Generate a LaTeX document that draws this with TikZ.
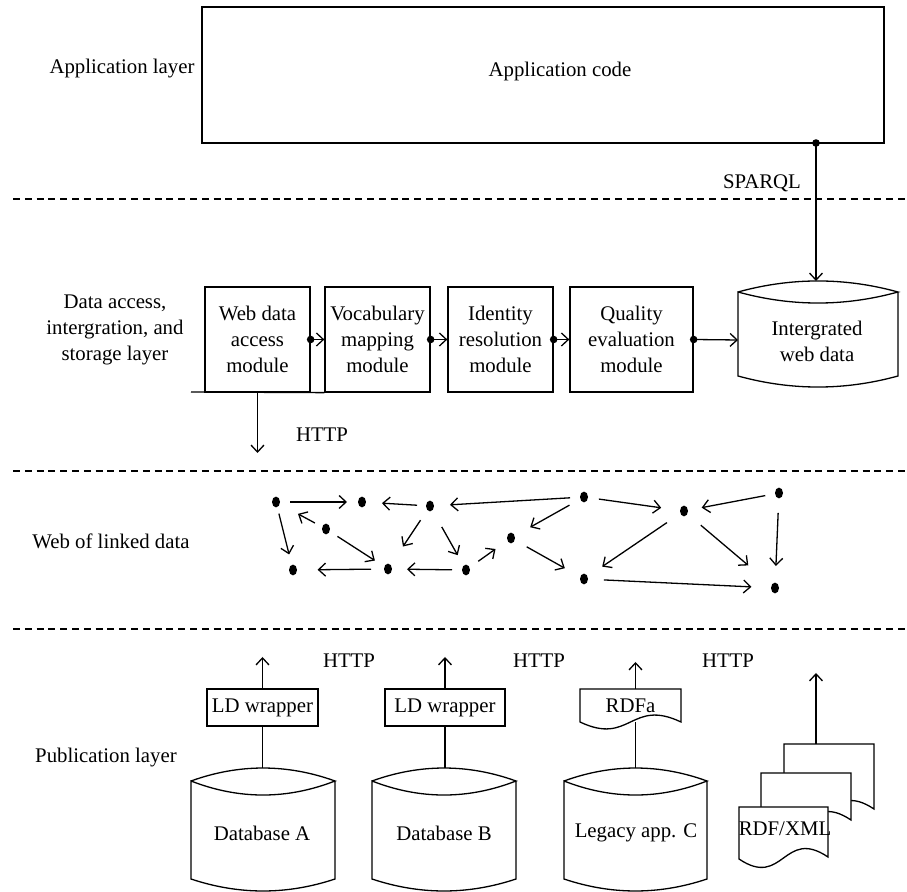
\documentclass[tikz,border=0pt]{standalone}
\usepackage{fontspec}
\setmainfont{Liberation Serif}
\usetikzlibrary{arrows.meta,calc,shapes.geometric}
\newcommand\cylshape[7]{% l, r, ysidetop, ysidebot, hTop, hInner, hBot
  \draw[ln] (#1,#3) .. controls ({#1+(#2-#1)/3},{#3-#5}) and ({#2-(#2-#1)/3},{#3-#5}) .. (#2,#3)
    .. controls ({#2-(#2-#1)/3},{#3+#6}) and ({#1+(#2-#1)/3},{#3+#6}) .. (#1,#3) -- (#1,#4)
    .. controls ({#1+(#2-#1)/3},{#4+#7}) and ({#2-(#2-#1)/3},{#4+#7}) .. (#2,#4) -- (#2,#3);}
\newcommand\docshape[6]{% l, r, top, bottom-left, bottom-right, wave
  \filldraw[ln,fill=white] (#1,#3) -- (#2,#3) -- (#2,#5)
    .. controls ({(#1+#2)/2},{#5-#6}) and ({(#1+#2)/2},{#4+#6}) .. (#1,#4) -- cycle;}
\begin{document}
\begin{tikzpicture}[x=0.5pt,y=-0.5pt,
  font=\fontsize{10.4}{13}\selectfont,
  ln/.style={line width=0.65pt},
  arr/.style={line width=0.65pt,-{Straight Barb[length=3.5pt,width=6.5pt]}},
  dashline/.style={line width=0.65pt,dash pattern=on 3.5pt off 2.4pt},
  modbox/.style={draw,line width=0.65pt,minimum height=52.5pt,inner sep=0pt,align=center},
  lbl/.style={align=center,inner sep=0pt},
  wrapbox/.style={draw,line width=0.65pt,minimum height=18.5pt,inner sep=0pt},
  lddot/.style={ellipse,fill=black,inner sep=0pt,minimum width=4pt,minimum height=5.4pt},
  ldarr/.style 2 args={arr,shorten <=#1,shorten >=#2},
  bigdot/.style={circle,fill=black,inner sep=0pt,minimum size=3.8pt},
]
\useasboundingbox (0,0) rectangle (907,892);

% ---------- layer separators ----------
\draw[dashline] (13,199) -- (907,199);
\draw[dashline] (13,471) -- (907,471);
\draw[dashline] (13,629) -- (907,629);

% ---------- layer labels ----------
\node[lbl] (l1) at (122,69) {Application layer};
\node[lbl] (l2) at (115,330) {Data access,\\intergration, and\\storage layer};
\node[lbl] (l3) at (111,541) {Web of linked data};
\node[lbl] (l4) at (106,758) {Publication layer};

% ---------- application layer ----------
\node[draw,ln,minimum width=341pt,minimum height=68pt,inner sep=0pt] (app) at (543,75) {};
\node[lbl] (apptext) at (560,72) {Application code};
\coordinate (appout) at (816,143);
\coordinate (iwdtop) at (816,281);
\node[lbl] (sparql) at (762,183) {SPARQL};

% ---------- data access layer ----------
\node[modbox,minimum width=52.5pt] (m1) at (257.5,339.5) {Web data\\access\\module};
\node[modbox,minimum width=52.5pt] (m2) at (377.5,339.5) {Vocabulary\\mapping\\module};
\node[modbox,minimum width=52.5pt] (m3) at (500.5,339.5) {Identity\\resolution\\module};
\node[modbox,minimum width=61.5pt] (m4) at (631.5,339.5) {Quality\\evaluation\\module};
\cylshape{738}{898}{292}{376}{14.7}{14.7}{14.7}
\node[lbl] (iwd) at (817,341) {Intergrated\\web data};
\coordinate (iwdleft) at (738,340);

\draw[arr] (appout) -- (iwdtop);
\node[bigdot] at (appout) {};

\draw[arr] (m1.east) -- (m2.west);
\draw[arr] (m2.east) -- (m3.west);
\draw[arr] (m3.east) -- (m4.west);
\draw[arr] (m4.east) -- (iwdleft);
\node[bigdot] at (m1.east) {};
\node[bigdot] at (m2.east) {};
\node[bigdot] at (m3.east) {};
\node[bigdot] at (m4.east) {};

\coordinate (baseL) at (191,392);
\draw[ln] (baseL) -- (m2.south west);
\coordinate (httpdown) at (257.5,453);
\draw[arr] (m1.south) -- (httpdown);
\node[lbl] (http1) at (322,435) {HTTP};

% ---------- web of linked data ----------
\node[lddot] (n1) at (276,502) {};
\node[lddot] (n2) at (362,502) {};
\node[lddot] (n3) at (430,506) {};
\node[lddot] (n4) at (326,529) {};
\node[lddot] (n5) at (293,570) {};
\node[lddot] (n6) at (388,569) {};
\node[lddot] (n7) at (466,570) {};
\node[lddot] (n8) at (511,538) {};
\node[lddot] (n9) at (584,497) {};
\node[lddot] (n10) at (584,579) {};
\node[lddot] (n11) at (684,511) {};
\node[lddot] (n12) at (779,493) {};
\node[lddot] (n13) at (775,588) {};

\draw[ldarr={7pt}{7.5pt}] (n1.center) -- (n2.center);
\draw[ldarr={6.5pt}{10pt}] (n3.center) -- (n2.center);
\draw[ldarr={7pt}{10pt}] (n9.center) -- (n3.center);
\draw[ldarr={6.3pt}{12.5pt}] (n4.center) -- (n1.center);
\draw[ldarr={6pt}{8pt}] (n1.center) -- (n5.center);
\draw[ldarr={6.8pt}{7.8pt}] (n4.center) -- (n6.center);
\draw[ldarr={8.5pt}{13.5pt}] (n3.center) -- (n6.center);
\draw[ldarr={12pt}{8.5pt}] (n3.center) -- (n7.center);
\draw[ldarr={8.5pt}{12.3pt}] (n6.center) -- (n5.center);
\draw[ldarr={7pt}{9.5pt}] (n7.center) -- (n6.center);
\draw[ldarr={7.5pt}{9.5pt}] (n7.center) -- (n8.center);
\draw[ldarr={8.3pt}{11pt}] (n9.center) -- (n8.center);
\draw[ldarr={9pt}{11pt}] (n8.center) -- (n10.center);
\draw[ldarr={7.5pt}{11.5pt}] (n9.center) -- (n11.center);
\draw[ldarr={7pt}{9pt}] (n12.center) -- (n11.center);
\draw[ldarr={10.3pt}{11pt}] (n11.center) -- (n10.center);
\draw[ldarr={11pt}{17.5pt}] (n11.center) -- (n13.center);
\draw[ldarr={10pt}{11pt}] (n12.center) -- (n13.center);
\draw[ldarr={10pt}{11.8pt}] (n10.center) -- (n13.center);

% ---------- publication layer ----------
\node[lbl] (http2) at (349,661) {HTTP};
\node[lbl] (http3) at (539,661) {HTTP};
\node[lbl] (http4) at (728,661) {HTTP};

% database A
\cylshape{191}{335}{781}{879}{17.3}{18.7}{16}
\node[lbl] (dbA) at (262,833) {Database A};
\node[wrapbox,minimum width=55.5pt] (wa) at (262.5,707.5) {LD wrapper};
\coordinate (dbAtop) at (262.5,768);
\coordinate (waup) at (262.5,657);
\draw[ln] (dbAtop) -- (wa.south);
\draw[arr] (wa.north) -- (waup);

% database B
\cylshape{372}{516}{781}{879}{17.3}{18.7}{16}
\node[lbl] (dbB) at (444,833) {Database B};
\node[wrapbox,minimum width=60pt] (wb) at (445,707.5) {LD wrapper};
\coordinate (dbBtop) at (445,768);
\coordinate (wbup) at (445,657);
\draw[ln] (dbBtop) -- (wb.south);
\draw[arr] (wb.north) -- (wbup);

% legacy app C
\cylshape{564}{707}{781}{879}{17.3}{18.7}{16}
\node[lbl] (dbC) at (636,833) {Legacy app. C};
\docshape{580}{681}{689}{722}{722}{24}
\node[lbl,minimum width=50.5pt,minimum height=16.5pt] (rdfa) at (630.5,705.5) {RDFa};
\coordinate (dbCtop) at (635.5,768);
\coordinate (rdfaup) at (635.5,662);
\draw[ln] (dbCtop) -- (dbCtop |- rdfa.south);
\draw[arr] (rdfaup |- rdfa.north) -- (rdfaup);

% RDF/XML documents
\docshape{784}{874}{744}{811}{809}{30}
\docshape{761}{851}{773}{822}{820}{30}
\docshape{739}{828}{807}{859}{857}{30}
\node[lbl] (rdfxml) at (785,829) {RDF/XML};
\coordinate (docstop) at (816,744);
\coordinate (docsup) at (816,673);
\draw[arr] (docstop) -- (docsup);
\end{tikzpicture}
\end{document}
